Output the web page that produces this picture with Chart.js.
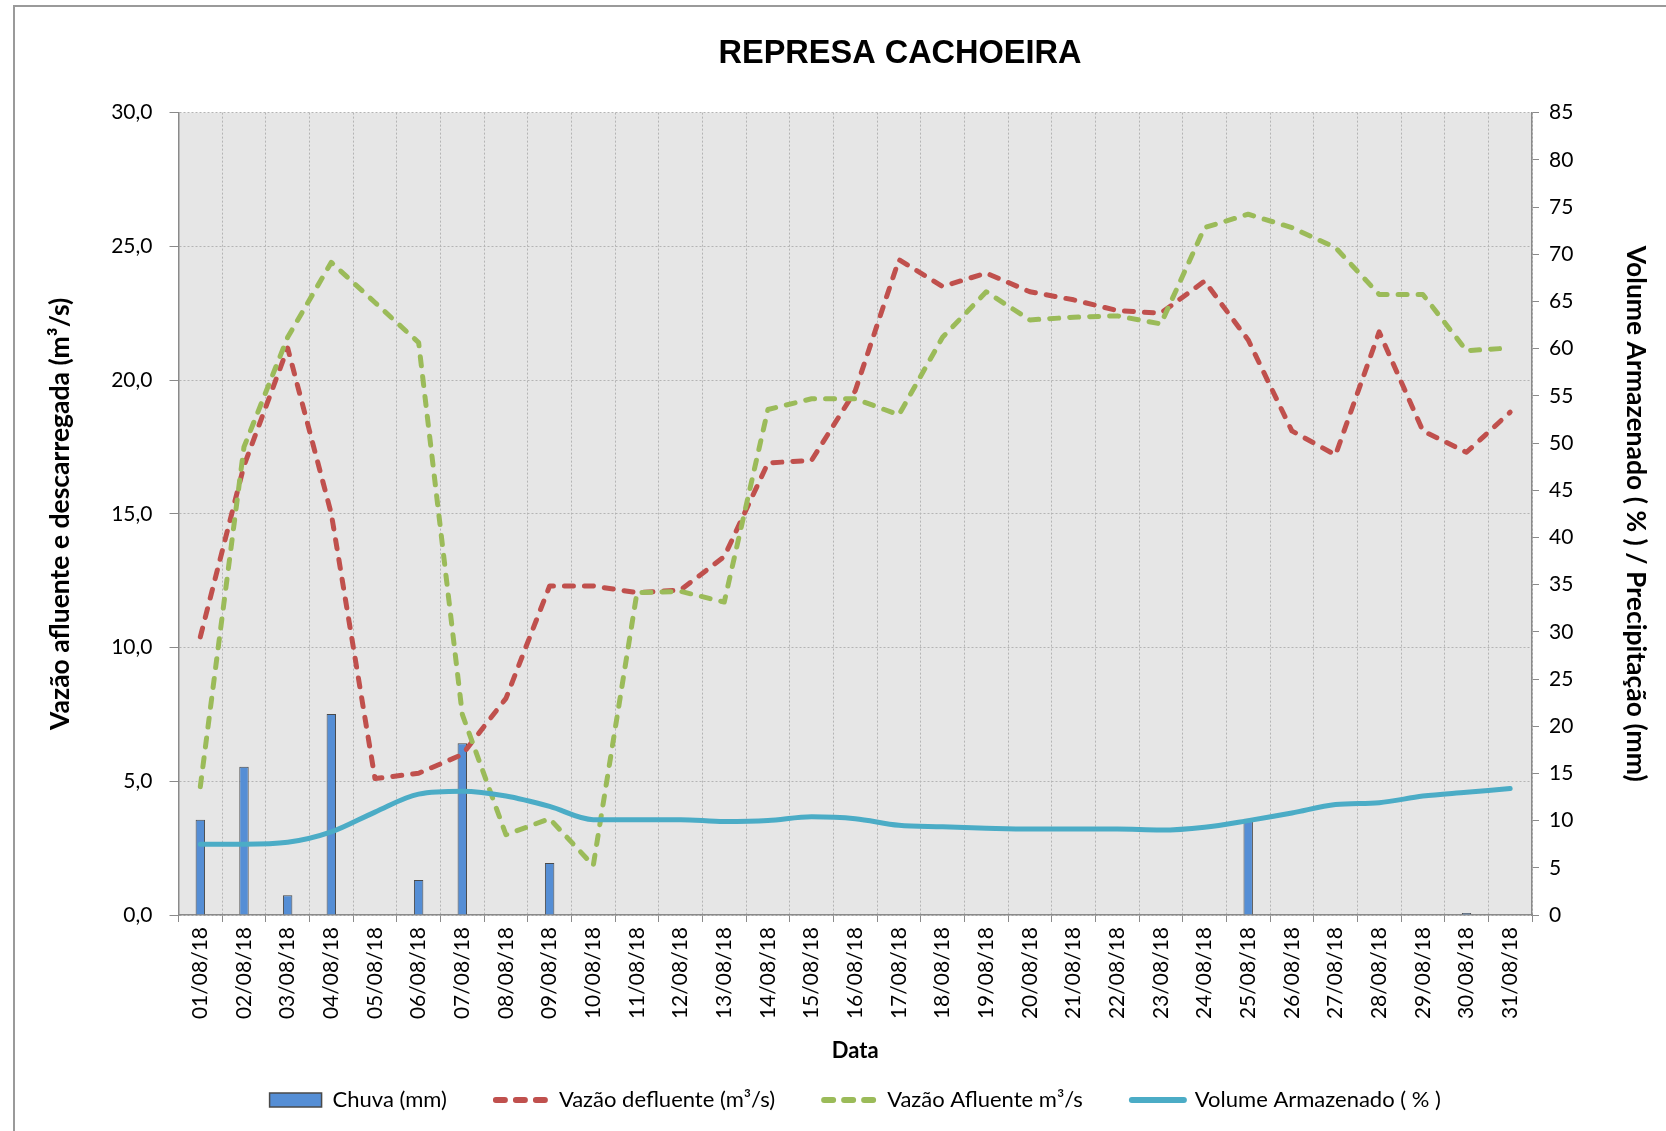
<!DOCTYPE html>
<html>
<head>
<meta charset="utf-8">
<script src="https://cdn.jsdelivr.net/npm/chart.js@4/dist/chart.umd.min.js"></script>
<style>
  html, body { margin: 0; padding: 0; background: #ffffff; }
  #wrap { position: relative; width: 1666px; height: 1131px; }
  canvas { display: block; }
</style>
</head>
<body>
<div id="wrap"><canvas id="c" width="1666" height="1131"></canvas></div>
<script>
// ---- Data ----
const dates = ["01/08/18","02/08/18","03/08/18","04/08/18","05/08/18","06/08/18","07/08/18","08/08/18","09/08/18","10/08/18",
  "11/08/18","12/08/18","13/08/18","14/08/18","15/08/18","16/08/18","17/08/18","18/08/18","19/08/18","20/08/18",
  "21/08/18","22/08/18","23/08/18","24/08/18","25/08/18","26/08/18","27/08/18","28/08/18","29/08/18","30/08/18","31/08/18"];

const chuvaMm = [10.1, 15.7, 2.1, 21.3, 0, 3.7, 18.2, 0, 5.5, 0,
  0, 0, 0, 0, 0, 0, 0, 0, 0, 0,
  0, 0, 0, 0, 10.2, 0, 0, 0, 0, 0.2, 0];

const vazaoDefluente = [10.4, 16.8, 21.2, 15.0, 5.1, 5.3, 6.0, 8.1, 12.3, 12.3,
  12.05, 12.15, 13.4, 16.9, 17.0, 19.6, 24.5, 23.5, 24.0, 23.3,
  23.0, 22.6, 22.5, 23.7, 21.5, 18.1, 17.2, 21.8, 18.1, 17.3, 18.8];

const vazaoAfluente = [4.8, 17.5, 21.6, 24.4, 22.9, 21.4, 7.5, 3.0, 3.6, 1.85,
  12.05, 12.1, 11.7, 18.9, 19.3, 19.3, 18.7, 21.6, 23.3, 22.25,
  22.35, 22.4, 22.1, 25.7, 26.2, 25.7, 24.95, 23.2, 23.2, 21.1, 21.2];

const volumeArmazenado = [7.5, 7.5, 7.7, 8.8, 10.9, 12.8, 13.1, 12.6, 11.5, 10.1,
  10.1, 10.1, 9.9, 10.0, 10.4, 10.2, 9.5, 9.35, 9.2, 9.1,
  9.1, 9.1, 9.0, 9.3, 10.0, 10.8, 11.7, 11.9, 12.6, 13.0, 13.4];

const leftAxis = { min: 0, max: 30, step: 5 };
const rightAxis = { min: 0, max: 85, step: 5 };

// ---- Plugins ----
const frameAndBg = {
  id: 'frameAndBg',
  beforeDraw(chart) {
    const ctx = chart.ctx, a = chart.chartArea;
    ctx.save();
    ctx.fillStyle = '#ffffff';
    ctx.fillRect(0, 0, chart.width, chart.height);
    ctx.strokeStyle = '#9a9a9a';
    ctx.lineWidth = 2;
    ctx.beginPath();
    ctx.moveTo(14, chart.height);
    ctx.lineTo(14, 6);
    ctx.lineTo(chart.width, 6);
    ctx.stroke();
    ctx.fillStyle = '#e6e6e6';
    ctx.fillRect(a.left, a.top, a.right - a.left, a.bottom - a.top);
    ctx.restore();
  },
  afterLayout(chart) {
    if (chart.titleBlock) { chart.titleBlock.left = 134; chart.titleBlock.right = 1666; }
    if (chart.legend) { chart.legend.left = chart.chartArea.left; chart.legend.right = chart.chartArea.right; }
  }
};

const tickFont = { family: 'Lato', size: 21 };
const titleFont = { family: 'Lato', size: 26.5, weight: 'bold' };
const gridColor = '#b4b4b4';
const axisColor = '#8a8a8a';

new Chart(document.getElementById('c'), {
  type: 'bar',
  data: {
    labels: dates,
    datasets: [
      {
        type: 'bar', label: 'Chuva (mm)', data: chuvaMm, yAxisID: 'y2',
        backgroundColor: '#558ed5', borderColor: '#4a4a4a', borderWidth: 1,
        barPercentage: 0.9, categoryPercentage: 0.24, order: 4
      },
      {
        type: 'line', label: 'Vazão defluente (m³/s)', data: vazaoDefluente, yAxisID: 'y',
        borderColor: '#c0504d', backgroundColor: '#c0504d', borderWidth: 5,
        borderDash: [9, 11], borderCapStyle: 'round', borderJoinStyle: 'round',
        pointRadius: 0, tension: 0, order: 3
      },
      {
        type: 'line', label: 'Vazão Afluente m³/s', data: vazaoAfluente, yAxisID: 'y',
        borderColor: '#9bbb59', backgroundColor: '#9bbb59', borderWidth: 5,
        borderDash: [9, 11], borderCapStyle: 'round', borderJoinStyle: 'round',
        pointRadius: 0, tension: 0, order: 2
      },
      {
        type: 'line', label: 'Volume Armazenado ( % )', data: volumeArmazenado, yAxisID: 'y2',
        borderColor: '#4bacc6', backgroundColor: '#4bacc6', borderWidth: 5,
        borderCapStyle: 'round', borderJoinStyle: 'round',
        pointRadius: 0, cubicInterpolationMode: 'monotone', order: 1
      }
    ]
  },
  options: {
    responsive: false,
    animation: false,
    layout: { padding: { left: 0, right: 0, top: 0, bottom: 10 } },
    plugins: {
      tooltip: { enabled: false },
      title: {
        display: true, text: 'REPRESA CACHOEIRA', color: '#000000',
        font: { family: 'Liberation Sans', size: 32.5, weight: 'bold' },
        padding: { top: 35, bottom: 38.6 }
      },
      legend: {
        position: 'bottom',
        labels: {
          font: { family: 'Lato', size: 22 }, color: '#000000',
          usePointStyle: true, pointStyleWidth: 52, boxHeight: 14, padding: 49,
          sort: (a, b) => a.datasetIndex - b.datasetIndex,
          generateLabels(chart) {
            const items = Chart.defaults.plugins.legend.labels.generateLabels(chart);
            items.forEach(it => {
              const ds = chart.data.datasets[it.datasetIndex];
              if (ds.type === 'bar') {
                it.pointStyle = 'rect'; it.lineWidth = 1.5; it.strokeStyle = '#4a4a4a';
                it.fillStyle = ds.backgroundColor; it.lineDash = [];
              } else {
                it.pointStyle = 'line'; it.lineWidth = 6; it.lineCap = 'round';
                it.strokeStyle = ds.borderColor; it.lineDash = ds.borderDash || [];
              }
            });
            return items;
          }
        }
      }
    },
    scales: {
      x: {
        offset: true,
        grid: { display: true, offset: true, color: gridColor, lineWidth: 1,
          tickLength: 7, tickColor: axisColor, tickBorderDash: [], tickWidth: 1 },
        border: { display: true, color: axisColor, width: 1.5, dash: [2, 2] },
        ticks: { font: tickFont, color: '#000000', minRotation: 90, maxRotation: 90, autoSkip: false, padding: 5 },
        title: { display: true, text: 'Data', color: '#000000', font: { family: 'Lato', size: 22, weight: 'bold' },
          padding: { top: 0, bottom: -24.2 } },
        afterFit(s) { s.height = 125; }
      },
      y: {
        position: 'left', min: leftAxis.min, max: leftAxis.max,
        grid: { color: gridColor, lineWidth: 1,
          tickLength: 9, tickColor: axisColor, tickBorderDash: [], tickWidth: 1 },
        border: { display: true, color: axisColor, width: 1.5, dash: [2, 2] },
        ticks: { stepSize: leftAxis.step, font: tickFont, color: '#000000', padding: 17,
          callback: v => v.toFixed(1).replace('.', ',') },
        title: { display: true, text: 'Vazão afluente e descarregada (m³/s)', color: '#000000', font: titleFont,
          padding: { top: 44.6, bottom: 0 } },
        afterFit(s) { s.width = 178.5; }
      },
      y2: {
        position: 'right', min: rightAxis.min, max: rightAxis.max,
        grid: { drawOnChartArea: false, tickLength: 7, tickColor: axisColor, tickBorderDash: [], tickWidth: 1 },
        border: { display: true, color: axisColor, width: 1.5 },
        ticks: { stepSize: rightAxis.step, font: tickFont, color: '#000000', padding: 10 },
        title: { display: true, text: 'Volume Armazenado ( % ) / Precipitação (mm)', color: '#000000', font: titleFont,
          padding: { top: 14.1, bottom: 0 } },
        afterFit(s) { s.width = 134; }
      }
    }
  },
  plugins: [frameAndBg]
});
</script>
</body>
</html>
